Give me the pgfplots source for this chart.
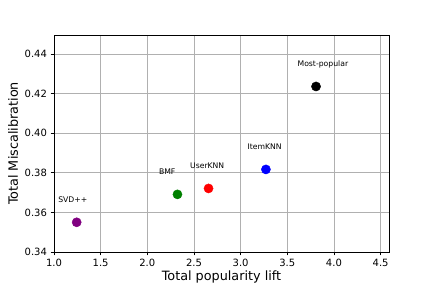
\documentclass[border=0pt]{standalone}
\usepackage{fontspec}
\setmainfont{DejaVu Sans}
\usepackage{pgfplots}
\usepackage{pgfplotstable}
\pgfplotsset{compat=1.18}
\definecolor{mplpurple}{RGB}{128,0,128}
\definecolor{mplgreen}{RGB}{0,128,0}
\definecolor{gridgray}{RGB}{176,176,176}
\pgfplotstableread{
x y label
1.243 0.3550 SVD++
}\svd
\pgfplotstableread{
x y label
2.323 0.3691 BMF
}\bmf
\pgfplotstableread{
x y label
2.656 0.3721 UserKNN
}\userknn
\pgfplotstableread{
x y label
3.271 0.3817 ItemKNN
}\itemknn
\pgfplotstableread{
x y label
3.808 0.4236 Most-popular
}\mostpop
\begin{document}
\begin{tikzpicture}
\useasboundingbox (0,0) rectangle (432pt,288pt);
\begin{axis}[
  at={(54pt,36pt)}, anchor=south west,
  scale only axis, width=335pt, height=217pt,
  xmin=1.0, xmax=4.59, ymin=0.34, ymax=0.4496,
  xtick={1.0,1.5,2.0,2.5,3.0,3.5,4.0,4.5},
  ytick={0.34,0.36,0.38,0.40,0.42,0.44},
  xticklabel style={/pgf/number format/.cd, fixed, fixed zerofill, precision=1},
  yticklabel style={/pgf/number format/.cd, fixed, fixed zerofill, precision=2},
  /pgf/number format/assume math mode=true,
  tick label style={font=\fontsize{10}{12}\selectfont},
  grid=major,
  major grid style={gridgray, line width=0.8pt},
  axis line style={black, line width=0.8pt},
  tick style={black, line width=0.8pt},
  tick align=outside,
  major tick length=3.5pt,
  xtick pos=bottom, ytick pos=left,
  xlabel={Total popularity lift},
  ylabel={Total Miscalibration},
  label style={font=\fontsize{12.8}{15}\selectfont},
  xlabel style={at={(0.5,0)}, anchor=base, yshift=-29pt},
  ylabel style={at={(0,0.5)}, anchor=base, yshift=36pt},
  point meta=explicit symbolic,
  nodes near coords,
  nodes near coords style={font=\fontsize{7.7}{9}\selectfont, anchor=base west, xshift=-18.6pt, yshift=19.8pt, text=black, inner sep=0pt},
  clip=false,
]
\addplot[only marks, mark=*, mark size=4.6pt, mplpurple] table[x=x, y=y, meta=label] {\svd};
\addplot[only marks, mark=*, mark size=4.6pt, mplgreen] table[x=x, y=y, meta=label] {\bmf};
\addplot[only marks, mark=*, mark size=4.6pt, red] table[x=x, y=y, meta=label] {\userknn};
\addplot[only marks, mark=*, mark size=4.6pt, blue] table[x=x, y=y, meta=label] {\itemknn};
\addplot[only marks, mark=*, mark size=4.6pt, black] table[x=x, y=y, meta=label] {\mostpop};
\end{axis}
\end{tikzpicture}
\end{document}
